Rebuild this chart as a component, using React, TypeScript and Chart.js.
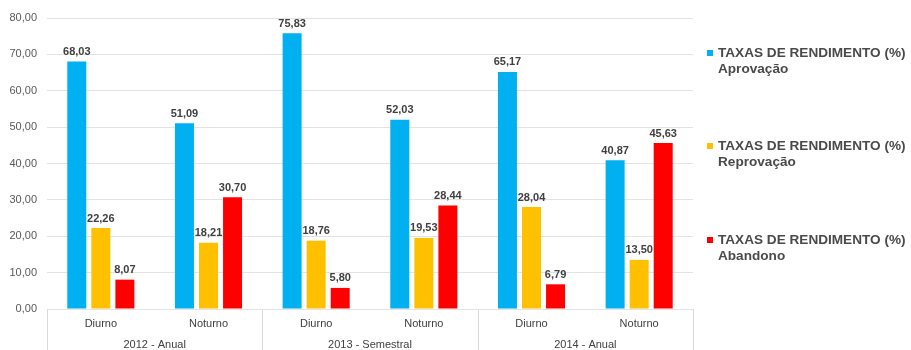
import React, { useEffect, useRef } from "react";
import { Chart, registerables } from "chart.js";

Chart.register(...registerables);

const categories = ["Diurno", "Noturno", "Diurno", "Noturno", "Diurno", "Noturno"];
const groups = ["2012 - Anual", "2013 - Semestral", "2014 - Anual"];
const seriesTitle = "TAXAS DE RENDIMENTO (%)";
const seriesNames = ["Aprovação", "Reprovação", "Abandono"];
const aprovacao = [68.03, 51.09, 75.83, 52.03, 65.17, 40.87];
const reprovacao = [22.26, 18.21, 18.76, 19.53, 28.04, 13.5];
const abandono = [8.07, 30.7, 5.8, 28.44, 6.79, 45.63];
const seriesColors = ["#00B0F0", "#FFC000", "#FF0000"];
const yMin = 0;
const yMax = 80;
const yStep = 10;

const FONT = "'Liberation Sans', Arial, sans-serif";
const fmt = (v: number) => v.toFixed(2).replace(".", ",");

const dataLabelPlugin = {
  id: "dataLabels",
  afterDatasetsDraw(chart: any) {
    const ctx = chart.ctx;
    ctx.save();
    ctx.font = `bold 11px ${FONT}`;
    ctx.fillStyle = "#404040";
    ctx.textAlign = "center";
    ctx.textBaseline = "bottom";
    chart.data.datasets.forEach((ds: any, i: number) => {
      const meta = chart.getDatasetMeta(i);
      meta.data.forEach((bar: any, j: number) => {
        ctx.fillText(fmt(ds.data[j]), bar.x, bar.y - 4);
      });
    });
    ctx.restore();
  },
};

const groupAxisPlugin = {
  id: "groupAxis",
  afterDraw(chart: any) {
    const ctx = chart.ctx;
    const xs = chart.scales.x;
    const top = chart.chartArea.bottom;
    const n = categories.length;
    const per = n / groups.length;
    const w = (xs.right - xs.left) / n;
    ctx.save();
    ctx.strokeStyle = "#d9d9d9";
    ctx.lineWidth = 1;
    for (let g = 0; g <= groups.length; g++) {
      const px = Math.round(xs.left + g * per * w) + 0.5;
      ctx.beginPath();
      ctx.moveTo(px, top);
      ctx.lineTo(px, chart.height);
      ctx.stroke();
    }
    ctx.font = `11px ${FONT}`;
    ctx.fillStyle = "#404040";
    ctx.textAlign = "center";
    ctx.textBaseline = "middle";
    groups.forEach((g, i) => {
      const cx = xs.left + (i + 0.5) * per * w;
      ctx.fillText(g, cx, top + 36);
    });
    ctx.restore();
  },
};

const legendPlugin = {
  id: "sideLegend",
  afterDraw(chart: any) {
    const ctx = chart.ctx;
    ctx.save();
    const x0 = 707;
    const ys = [53, 146, 240];
    chart.data.datasets.forEach((ds: any, i: number) => {
      const y = ys[i];
      ctx.fillStyle = ds.backgroundColor;
      ctx.fillRect(x0, y - 3, 6, 6);
      ctx.fillStyle = "#4a4a4a";
      ctx.font = `bold 13.6px ${FONT}`;
      ctx.textAlign = "left";
      ctx.textBaseline = "middle";
      ctx.fillText(seriesTitle, x0 + 11, y);
      ctx.fillText(seriesNames[i], x0 + 11, y + 16);
    });
    ctx.restore();
  },
};

export default function App() {
  const ref = useRef<HTMLCanvasElement>(null);
  useEffect(() => {
    document.body.style.margin = "0";
    const chart = new Chart(ref.current!, {
      type: "bar",
      data: {
        labels: categories,
        datasets: [aprovacao, reprovacao, abandono].map((d, i) => ({
          label: `${seriesTitle} ${seriesNames[i]}`,
          data: d,
          backgroundColor: seriesColors[i],
          borderWidth: 0,
          categoryPercentage: 0.67,
          barPercentage: 0.79,
        })),
      },
      options: {
        responsive: false,
        animation: false,
        layout: { padding: { top: 18, right: 218, left: 0, bottom: 0 } },
        plugins: { legend: { display: false }, tooltip: { enabled: false } },
        scales: {
          x: {
            grid: { display: false },
            border: { display: false },
            ticks: {
              color: "#404040",
              font: { family: FONT, size: 11 },
              padding: 0,
              maxRotation: 0,
            },
            afterFit: (s: any) => {
              s.height = 41;
            },
          },
          y: {
            min: yMin,
            max: yMax,
            grid: { color: "#e3e3e3", drawTicks: false },
            border: { display: false },
            ticks: {
              stepSize: yStep,
              color: "#595959",
              font: { family: FONT, size: 11 },
              padding: 10,
              callback: (v: any) => fmt(Number(v)),
            },
            afterFit: (s: any) => {
              s.width = 47;
            },
          },
        },
      },
      plugins: [dataLabelPlugin, groupAxisPlugin, legendPlugin],
    });
    return () => chart.destroy();
  }, []);
  return <canvas ref={ref} width={911} height={350} style={{ display: "block" }} />;
}
